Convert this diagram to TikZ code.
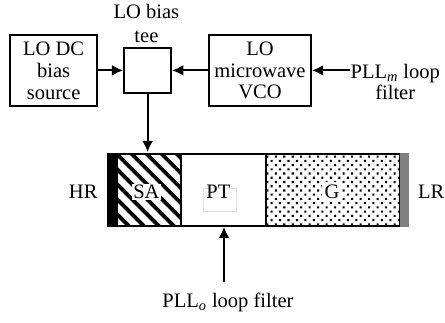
\documentclass[tikz,border=0pt]{standalone}
\usepackage{fontspec}
\setmainfont{Liberation Serif}
\usetikzlibrary{arrows.meta,patterns.meta}

\tikzset{
    blockbox/.style={draw, line width=1.4pt, align=center, inner sep=0pt, minimum height=1.775cm},
    section/.style={draw, line width=1.3pt, inner sep=0pt, minimum height=1.8cm},
    mirror/.style={inner sep=0pt, minimum height=1.85cm},
    lbl/.style={align=center, inner sep=0pt, font=\fontsize{14.6}{15.6}\selectfont},
    sig/.style={line width=1.3pt, -{Latex[length=2.8mm,width=2.7mm]}}
}

\begin{document}
\begin{tikzpicture}
    \useasboundingbox (0,0) rectangle (11.125,8.05);

    % LO blocks
    \node[blockbox, lbl, minimum width=2.175cm, minimum height=1.775cm] (dc) at (1.34,6.29) {LO DC\\bias\\source};
    \node[blockbox, minimum width=1.175cm, minimum height=1.125cm] (tee) at (3.69,6.29) {};
    \node[blockbox, lbl, minimum width=2.55cm, minimum height=1.775cm] (vco) at (6.5,6.29) {LO\\microwave\\VCO};
    \node[lbl] (teelabel) at (3.66,7.46) {LO bias\\[2pt]tee};
    \node[lbl] (pllm) at (9.88,6.0) {PLL\textsubscript{\textit{m}} loop\\filter};

    % Laser sections
    \node[section, minimum width=1.6cm, pattern={Lines[angle=-45,distance=2.65mm,line width=0.95mm]}] (sa) at (3.725,3.3) {};
    \node[section, minimum width=2.125cm] (pt) at (5.59,3.3) {};
    \node[section, minimum width=3.35cm, pattern={Dots[angle=45,distance=1.5mm,radius=0.36mm]}] (g) at (8.325,3.3) {};
    \node[mirror, fill=black, minimum width=0.25cm] (hr) at (2.8,3.3) {};
    \node[mirror, fill=gray, minimum width=0.225cm] (lr) at (10.11,3.3) {};

    % Section labels
    \node[lbl, fill=white, inner sep=1pt] (salabel) at (3.66,3.25) {SA};
    \node[draw=gray!25, line width=0.3pt, minimum width=0.825cm, minimum height=0.575cm, inner sep=0pt] (ptbox) at (5.49,3.06) {};
    \node[lbl] (ptlabel) at (5.46,3.25) {PT};
    \node[lbl, fill=white, inner sep=2pt] (glabel) at (8.3,3.25) {G};
    \node[lbl] (hrlabel) at (2.08,3.25) {HR};
    \node[lbl] (lrlabel) at (10.78,3.25) {LR};
    \node[lbl] (pllo) at (5.7,0.5) {PLL\textsubscript{\textit{o}} loop filter};

    % Connections
    \coordinate (teeout) at (tee.south);
    \coordinate (pllmout) at (8.75,6.29);
    \coordinate (plloout) at (5.6,1.0);
    \draw[sig] (dc) -- (tee);
    \draw[sig] (vco) -- (tee);
    \draw[sig] (pllmout) -- (vco);
    \draw[sig] (teeout) -- (teeout |- sa.north);
    \draw[sig] (plloout) -- (plloout |- pt.south);
\end{tikzpicture}
\end{document}
